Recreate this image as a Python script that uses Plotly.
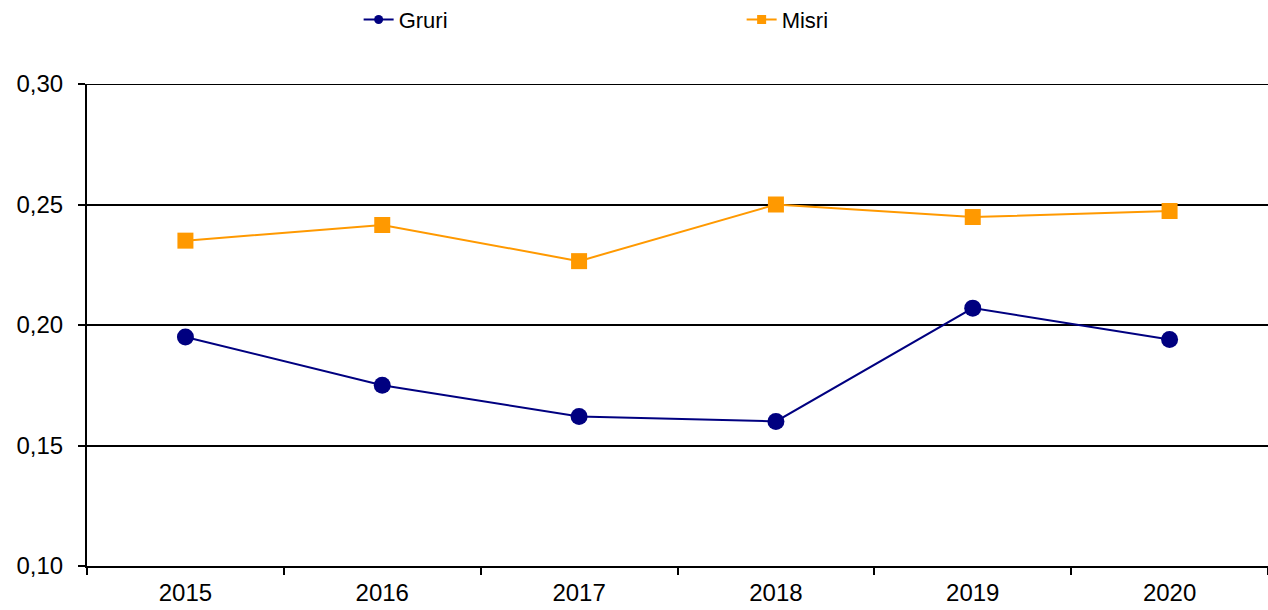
import plotly.graph_objects as go

years = ["2015", "2016", "2017", "2018", "2019", "2020"]
gruri = [0.195, 0.175, 0.162, 0.160, 0.207, 0.194]
misri = [0.235, 0.2415, 0.2265, 0.250, 0.2448, 0.2473]

FONT = "Liberation Sans, Arial, sans-serif"
FS = 24
NAVY = "#000080"
ORANGE = "#FF9900"

fig = go.Figure()
fig.add_trace(go.Scatter(
    x=years, y=gruri, name="Gruri", mode="lines+markers", showlegend=False,
    line=dict(color=NAVY, width=2),
    marker=dict(symbol="circle", size=17, color=NAVY),
))
fig.add_trace(go.Scatter(
    x=years, y=misri, name="Misri", mode="lines+markers", showlegend=False,
    line=dict(color=ORANGE, width=2),
    marker=dict(symbol="square", size=16, color=ORANGE),
))
# legend entries with small markers, as in the reference legend
fig.add_trace(go.Scatter(
    x=[None], y=[None], name="Gruri", mode="lines+markers",
    line=dict(color=NAVY, width=2), marker=dict(symbol="circle", size=9, color=NAVY),
))
fig.add_trace(go.Scatter(
    x=[None], y=[None], name="Misri", mode="lines+markers",
    line=dict(color=ORANGE, width=2), marker=dict(symbol="square", size=9, color=ORANGE),
))

# top border line at the 0.30 level
fig.add_shape(type="line", xref="paper", yref="y", x0=0, x1=1, y0=0.30, y1=0.30,
              line=dict(color="black", width=2), layer="below")

fig.update_layout(
    width=1268, height=610,
    margin=dict(l=87, r=0, t=84, b=44, autoexpand=False),
    paper_bgcolor="white", plot_bgcolor="white",
    separators=", ",
    font=dict(family=FONT, size=FS, color="black"),
    showlegend=True,
    legend=dict(
        orientation="h", x=0.230, y=1.1335, xanchor="left", yanchor="middle",
        entrywidth=338, entrywidthmode="pixels",
        font=dict(family=FONT, size=FS - 2, color="black"),
        bgcolor="rgba(0,0,0,0)",
    ),
    xaxis=dict(
        type="category", showline=True, linecolor="black", linewidth=2,
        ticks="outside", tickson="boundaries", ticklen=7, tickwidth=1.5,
        tickcolor="black", showgrid=False, range=[-0.5, 5.5],
        tickfont=dict(size=FS), automargin=False, ticklabelstandoff=4,
    ),
    yaxis=dict(
        range=[0.10, 0.30], tickvals=[0.10, 0.15, 0.20, 0.25, 0.30],
        tickformat=".2f", showline=True, linecolor="black", linewidth=2,
        ticks="outside", ticklen=7, tickwidth=1.5, tickcolor="black",
        showgrid=True, gridcolor="black", gridwidth=1.5, zeroline=False,
        tickfont=dict(size=FS), automargin=False, ticklabelstandoff=10,
    ),
)

fig.write_html(
    "out.html",
    config={"displayModeBar": False},
    post_script="document.body.style.margin='0';document.body.style.overflow='hidden';",
)
